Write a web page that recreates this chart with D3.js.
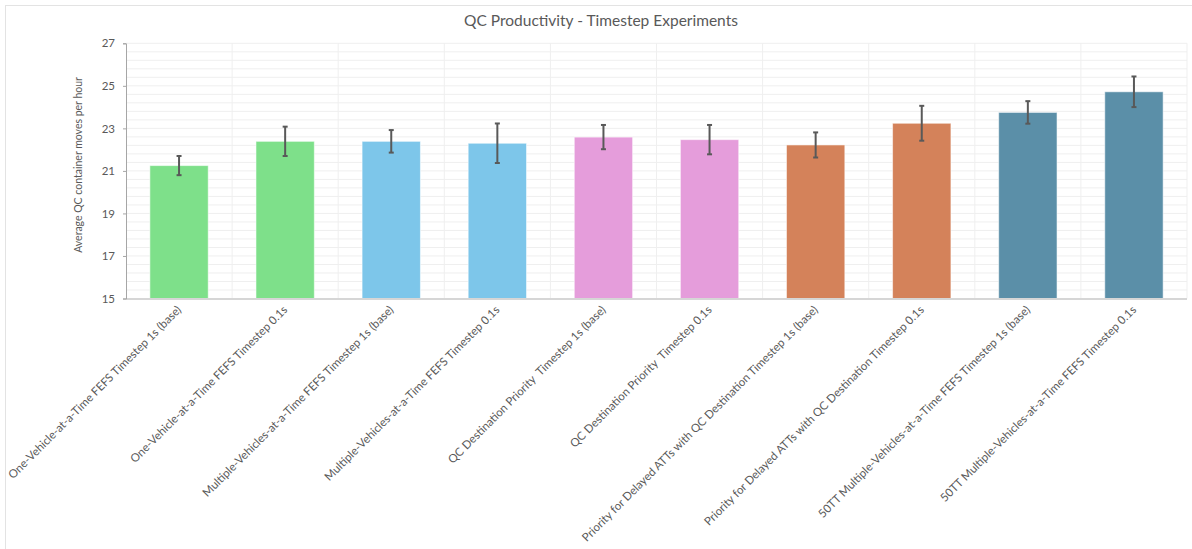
<!DOCTYPE html>
<html>
<head>
<meta charset="utf-8">
<script src="https://cdn.jsdelivr.net/npm/d3@7"></script>
<style>
  html, body { margin: 0; padding: 0; background: #ffffff; }
  svg { display: block; font-family: Lato, "Open Sans", sans-serif; }
  text { white-space: pre; }
</style>
</head>
<body>
<svg id="chart" width="1192" height="549"></svg>
<script>
// Experiment scenarios (x categories)
const categories = [
  "One-Vehicle-at-a-Time FEFS Timestep 1s (base)",
  "One-Vehicle-at-a-Time FEFS Timestep 0.1s",
  "Multiple-Vehicles-at-a-Time FEFS Timestep 1s (base)",
  "Multiple-Vehicles-at-a-Time FEFS Timestep 0.1s",
  "QC Destination Priority  Timestep 1s (base)",
  "QC Destination Priority  Timestep 0.1s",
  "Priority for Delayed ATTs with QC Destination Timestep 1s (base)",
  "Priority for Delayed ATTs with QC Destination Timestep 0.1s",
  "50TT Multiple-Vehicles-at-a-Time FEFS Timestep 1s (base)",
  "50TT Multiple-Vehicles-at-a-Time FEFS Timestep 0.1s"
];
// Mean QC moves per hour
const means = [21.25, 22.39, 22.39, 22.30, 22.59, 22.47, 22.22, 23.24, 23.75, 24.72];
// Error bar half-widths
const errors = [0.45, 0.69, 0.53, 0.93, 0.57, 0.69, 0.59, 0.82, 0.53, 0.72];
// Bar fill per scenario (pairs share a colour)
const colors = ["#7ee08a", "#7ee08a", "#7dc6ea", "#7dc6ea", "#e59ddb",
                "#e59ddb", "#d4825a", "#d4825a", "#5b8fa8", "#5b8fa8"];
const yTicks = [15, 17, 19, 21, 23, 25, 27];

const svg = d3.select("#chart");
const plotLeft = 126, plotRight = 1187, plotTop = 43.3, plotBottom = 298.5;

// chart frame
svg.append("rect")
  .attr("x", 5.5).attr("y", 5.5)
  .attr("width", 1220).attr("height", 600)
  .attr("fill", "#ffffff").attr("stroke", "#e3e3e3");

const x = d3.scaleBand().domain(categories).range([plotLeft, plotRight])
  .paddingInner(0.45).paddingOuter(0.225);
const y = d3.scaleLinear().domain([15, 27]).range([plotBottom, plotTop]);

// minor + major horizontal gridlines
const gridVals = d3.range(0, 31).map(i => 15 + i * 0.4);
svg.append("g").selectAll("line").data(gridVals).join("line")
  .attr("x1", plotLeft).attr("x2", plotRight)
  .attr("y1", d => y(d)).attr("y2", d => y(d))
  .attr("stroke", "#efefef").attr("stroke-width", 1);

// vertical gridlines on category boundaries
const step = x.step();
const x0 = x(categories[0]) - x.paddingOuter() * step;
svg.append("g").selectAll("line").data(d3.range(1, categories.length + 1)).join("line")
  .attr("x1", i => x0 + i * step).attr("x2", i => x0 + i * step)
  .attr("y1", plotTop).attr("y2", plotBottom)
  .attr("stroke", "#efefef").attr("stroke-width", 1);

// bars
svg.append("g").selectAll("rect").data(categories).join("rect")
  .attr("x", d => x(d))
  .attr("width", x.bandwidth())
  .attr("y", (d, i) => y(means[i]))
  .attr("height", (d, i) => plotBottom - y(means[i]))
  .attr("fill", (d, i) => colors[i])
  .attr("stroke", "rgba(255,255,255,0.55)").attr("stroke-width", 1);

// error bars
const eb = svg.append("g").attr("stroke", "#595959").attr("stroke-width", 2);
categories.forEach((c, i) => {
  const cx = x(c) + x.bandwidth() / 2;
  const hi = y(means[i] + errors[i]), lo = y(means[i] - errors[i]);
  eb.append("line").attr("x1", cx).attr("x2", cx).attr("y1", hi).attr("y2", lo);
  eb.append("line").attr("x1", cx - 2.5).attr("x2", cx + 2.5).attr("y1", hi).attr("y2", hi);
  eb.append("line").attr("x1", cx - 2.5).attr("x2", cx + 2.5).attr("y1", lo).attr("y2", lo);
});

// x axis line
svg.append("line").attr("x1", plotLeft).attr("x2", plotRight)
  .attr("y1", plotBottom + 0.5).attr("y2", plotBottom + 0.5)
  .attr("stroke", "#d6d6d6").attr("stroke-width", 2);

// y axis
const yAxis = d3.axisLeft(y).tickValues(yTicks).tickSize(3).tickPadding(8);
const yg = svg.append("g").attr("transform", `translate(${plotLeft},0)`).call(yAxis);
yg.select(".domain").attr("stroke", "#a6a6a6");
yg.selectAll(".tick line").attr("stroke", "#a6a6a6");
yg.selectAll(".tick text").attr("fill", "#595959").style("font-size", "11.5px")
  .style("font-family", "Lato, 'Open Sans', sans-serif");

// x labels, rotated
svg.append("g").selectAll("text").data(categories).join("text")
  .attr("transform", d => `translate(${x(d) + x.bandwidth() / 2 + 3},${plotBottom + 12}) rotate(-45)`)
  .attr("text-anchor", "end")
  .attr("fill", "#595959")
  .style("font-size", "11.5px")
  .text(d => d);

// y axis title
svg.append("text")
  .attr("transform", `translate(82,165) rotate(-90)`)
  .attr("text-anchor", "middle")
  .attr("fill", "#595959")
  .style("font-size", "10.5px")
  .text("Average QC container moves per hour");

// title
svg.append("text")
  .attr("x", 601).attr("y", 26)
  .attr("text-anchor", "middle")
  .attr("fill", "#595959")
  .style("font-size", "15.5px")
  .text("QC Productivity - Timestep Experiments");
</script>
</body>
</html>
